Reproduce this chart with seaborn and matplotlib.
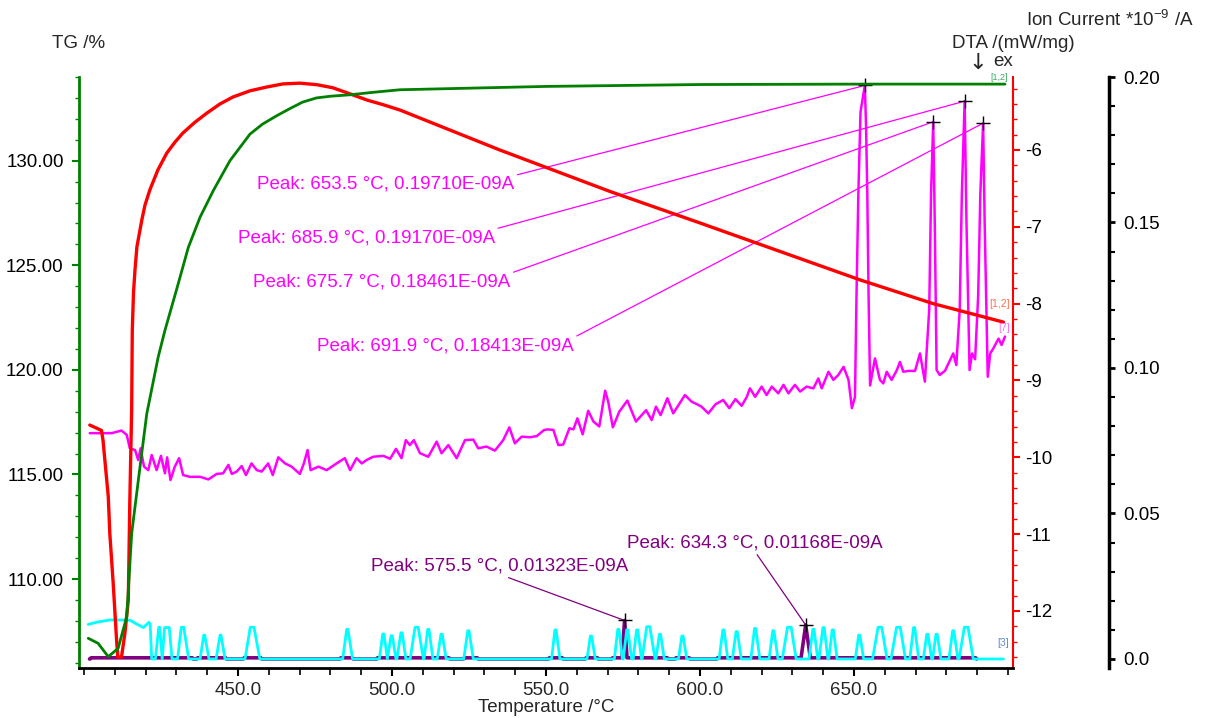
import matplotlib
matplotlib.use("Agg")
import matplotlib.pyplot as plt
from matplotlib.ticker import MultipleLocator, FixedLocator, FixedFormatter, FormatStrFormatter
import seaborn as sns

# ---------------- data ----------------
# TG curve (%)
tg_T = [401.4, 404.6, 407.9, 411.1, 413.9, 415.5, 418.2, 420.4, 424.1, 426.3, 430.0,
        433.9, 437.7, 442.0, 447.4, 453.9, 458.0, 462.6, 467.0, 471.0, 475.5, 480.0,
        486.4, 494.0, 502.6, 550.0, 600.0, 650.0, 699.0]
tg_val = [107.17, 106.93, 106.29, 106.69, 108.20, 112.18, 115.36, 117.90, 120.61, 121.89,
          123.80, 125.86, 127.30, 128.57, 130.00, 131.27, 131.75, 132.15, 132.50, 132.80,
          133.00, 133.08, 133.15, 133.27, 133.39, 133.55, 133.64, 133.66, 133.66]

# DTA curve (mW/mg)
dta_T = [401.9, 405.7, 406.2, 407.9, 408.4, 409.5, 410.6, 411.0, 412.2, 413.3, 414.4,
         414.9, 415.5, 415.7, 416.1, 416.6, 417.2, 418.8, 419.8, 421.4, 424.0, 426.9,
         429.5, 432.1, 436.0, 439.9, 444.2, 448.4, 453.9, 459.4, 464.6, 470.1, 475.6,
         480.8, 486.4, 491.9, 497.1, 502.6, 535.0, 570.8, 600.0, 651.9, 675.7, 698.5]
dta_val = [-9.58, -9.65, -9.78, -10.51, -10.99, -11.64, -12.38, -12.60, -12.60, -12.29,
           -11.86, -10.56, -9.37, -8.34, -7.85, -7.55, -7.26, -6.91, -6.72, -6.52, -6.26,
           -6.04, -5.90, -5.78, -5.64, -5.52, -5.40, -5.31, -5.23, -5.18, -5.14, -5.13,
           -5.15, -5.19, -5.27, -5.35, -5.41, -5.48, -6.00, -6.54, -6.95, -7.69, -8.00,
           -8.24]

# Ion current, magenta trace (*1e-9 A)
ms_T = [401.9, 409.0, 412.2, 413.9, 414.9, 416.6, 417.6, 418.4, 419.5, 420.9, 422.0, 423.6,
        425.0, 426.3, 427.0, 428.1, 429.5, 430.9, 432.2, 434.4, 437.7, 440.4, 443.1, 445.2,
        446.9, 448.0, 449.6, 451.2, 452.6, 454.4, 456.1, 457.7, 459.8, 461.3, 463.1, 465.3,
        467.4, 470.1, 471.4, 472.6, 473.6, 476.1, 478.8, 482.0, 484.7, 486.4, 488.5, 490.2,
        491.8, 493.9, 497.2, 499.4, 501.3, 503.1, 504.5, 505.8, 507.1, 509.1, 511.8, 514.5,
        516.1, 518.3, 521.0, 523.7, 526.4, 528.0, 530.7, 533.4, 536.1, 538.1, 539.9, 542.1,
        544.8, 547.0, 549.4, 550.7, 552.4, 554.0, 555.6, 557.6, 558.9, 560.2, 561.9, 563.7,
        565.4, 567.3, 569.2, 570.2, 571.7, 573.8, 576.4, 579.2, 582.5, 584.3, 585.7, 587.2,
        589.4, 591.3, 595.1, 597.3, 598.9, 600.5, 602.7, 605.0, 607.5, 609.5, 611.5, 613.5,
        615.2, 616.2, 617.9, 620.0, 621.6, 623.3, 625.4, 627.1, 628.7, 630.8, 632.5, 634.6,
        636.8, 638.4, 639.5, 641.7, 643.3, 644.9, 646.6, 648.2, 649.3, 650.3, 650.8, 651.4,
        652.1, 653.5, 653.9, 654.3, 654.7, 655.2, 656.8, 658.4, 659.5, 660.6, 662.2, 663.9,
        664.9, 666.0, 667.6, 669.8, 671.4, 673.0, 673.6, 674.4, 675.0, 675.7, 676.2, 676.8,
        677.8, 679.5, 682.2, 683.2, 684.3, 685.0, 685.9, 686.5, 687.5, 688.3, 689.3, 690.3,
        691.0, 691.9, 692.4, 693.4, 694.2, 695.2, 696.9, 697.9, 699.0]
ms_val = [0.0776, 0.0776, 0.0785, 0.0770, 0.0724, 0.0718, 0.0684, 0.0724, 0.0661, 0.0649,
          0.0701, 0.0649, 0.0698, 0.0638, 0.0693, 0.0615, 0.0661, 0.0690, 0.0632, 0.0626,
          0.0626, 0.0617, 0.0636, 0.0638, 0.0667, 0.0636, 0.0644, 0.0663, 0.0632, 0.0672,
          0.0649, 0.0644, 0.0672, 0.0632, 0.0693, 0.0672, 0.0661, 0.0636, 0.0672, 0.0718,
          0.0649, 0.0661, 0.0649, 0.0672, 0.0690, 0.0649, 0.0690, 0.0672, 0.0684, 0.0695,
          0.0698, 0.0688, 0.0722, 0.0690, 0.0752, 0.0735, 0.0752, 0.0707, 0.0695, 0.0747,
          0.0707, 0.0735, 0.0690, 0.0752, 0.0754, 0.0724, 0.0730, 0.0716, 0.0752, 0.0796,
          0.0741, 0.0764, 0.0762, 0.0766, 0.0787, 0.0789, 0.0787, 0.0735, 0.0737, 0.0793,
          0.0789, 0.0827, 0.0772, 0.0853, 0.0816, 0.0799, 0.0922, 0.0884, 0.0796, 0.0850,
          0.0888, 0.0816, 0.0855, 0.0821, 0.0867, 0.0838, 0.0896, 0.0844, 0.0907, 0.0884,
          0.0876, 0.0867, 0.0844, 0.0875, 0.0890, 0.0862, 0.0893, 0.0870, 0.0901, 0.0930,
          0.0901, 0.0936, 0.0907, 0.0936, 0.0913, 0.0942, 0.0913, 0.0942, 0.0919, 0.0936,
          0.0930, 0.0964, 0.0930, 0.0987, 0.0959, 0.0976, 0.1004, 0.0959, 0.0862, 0.0900,
          0.1250, 0.1600, 0.1880, 0.19710, 0.1830, 0.1600, 0.1260, 0.0940, 0.1033, 0.0959,
          0.0947, 0.0987, 0.0959, 0.0993, 0.1021, 0.0987, 0.0990, 0.0990, 0.1050, 0.0953,
          0.1062, 0.1200, 0.1600, 0.18461, 0.1500, 0.0993, 0.0976, 0.0990, 0.1050, 0.1010,
          0.1200, 0.1600, 0.19170, 0.1500, 0.0993, 0.1050, 0.1030, 0.1250, 0.1600, 0.18413,
          0.1500, 0.0970, 0.1050, 0.1067, 0.1101, 0.1079, 0.1108]

# Ion current, cyan trace: initial plateau, then bumps (left, top start, top end, right, height)
cyan_head_T = [401.4, 404.5, 408.4, 413.0, 415.0, 416.6, 418.0, 419.3, 421.1, 421.5, 422.0]
cyan_head_val = [0.0119, 0.0127, 0.0134, 0.0134, 0.0133, 0.0123, 0.0115, 0.0108, 0.0126,
                 0.0120, 0.0]
cyan_bumps = [
    (423.2, 424.3, 424.6, 425.4, 0.0109), (425.4, 426.2, 427.7, 428.6, 0.0108),
    (430.4, 431.6, 432.4, 434.0, 0.0109), (437.7, 438.9, 439.2, 440.6, 0.0082),
    (442.9, 444.2, 444.5, 445.8, 0.0082), (452.3, 454.0, 455.2, 457.1, 0.0109),
    (484.0, 485.3, 485.7, 487.2, 0.0102), (495.9, 497.0, 497.4, 498.5, 0.0086),
    (498.5, 499.7, 500.1, 501.3, 0.0080), (501.6, 502.9, 503.3, 504.5, 0.0090),
    (505.9, 507.5, 508.5, 510.2, 0.0109), (510.4, 511.6, 512.0, 513.3, 0.0102),
    (514.7, 515.9, 516.3, 517.6, 0.0085), (523.3, 524.6, 525.0, 526.4, 0.0097),
    (551.8, 552.9, 553.3, 554.5, 0.0100), (563.3, 564.4, 564.8, 566.0, 0.0079),
    (572.2, 573.3, 573.7, 574.8, 0.0102), (575.1, 576.2, 576.6, 577.8, 0.0100),
    (578.3, 579.4, 579.8, 581.0, 0.0100), (581.2, 582.7, 583.7, 585.4, 0.0111),
    (585.7, 586.8, 587.2, 588.4, 0.0085), (593.0, 594.1, 594.5, 595.7, 0.0079),
    (606.2, 607.4, 607.8, 609.0, 0.0100), (610.5, 611.7, 612.1, 613.4, 0.0094),
    (616.5, 617.7, 618.1, 619.4, 0.0105), (622.4, 623.6, 624.0, 625.3, 0.0097),
    (626.7, 628.4, 629.6, 631.2, 0.0109), (635.4, 636.6, 637.0, 638.2, 0.0102),
    (638.6, 639.9, 640.3, 641.5, 0.0108), (641.8, 642.9, 643.3, 644.5, 0.0100),
    (650.4, 651.5, 651.9, 653.1, 0.0082), (656.0, 657.8, 659.0, 660.7, 0.0109),
    (662.0, 663.8, 665.0, 666.7, 0.0109), (668.1, 669.3, 669.7, 671.0, 0.0108),
    (672.5, 673.6, 674.0, 675.2, 0.0085), (675.5, 676.6, 677.0, 678.2, 0.0085),
    (680.8, 682.0, 682.4, 683.7, 0.0097), (684.1, 685.8, 687.0, 688.7, 0.0109),
]
cyan_end_T = 698.5

# Ion current, purple trace: low humps (start, end) and two peaks
purple_level = 0.0004
purple_groups = [(402.0, 435.5), (436.6, 446.3), (451.7, 457.7), (483.1, 487.4),
                 (495.0, 518.8), (523.2, 528.0), (550.8, 555.6), (562.7, 567.0),
                 (571.3, 589.7), (591.9, 596.8), (605.4, 689.8)]
purple_peaks = [(574.7, 575.5, 576.3, 0.01323), (632.8, 634.3, 635.8, 0.01168)]

# Peak labels
ms_peak_T = [653.5, 685.9, 675.7, 691.9]
ms_peak_val = [0.19710, 0.19170, 0.18461, 0.18413]
pu_peak_T = [575.5, 634.3]
pu_peak_val = [0.01323, 0.01168]

x_ticks = [450.0, 500.0, 550.0, 600.0, 650.0]
tg_ticks = [110.0, 115.0, 120.0, 125.0, 130.0]
dta_ticks = [-12, -11, -10, -9, -8, -7, -6]
ion_ticks = [0.0, 0.05, 0.10, 0.15, 0.20]
ion_tick_labels = ["0.0", "0.05", "0.10", "0.15", "0.20"]

# ---------------- build polylines ----------------
cyan_T = list(cyan_head_T)
cyan_val = list(cyan_head_val)
for left, t0, t1, right, h in cyan_bumps:
    cyan_T += [left, t0, t1, right]
    cyan_val += [0.0, h, h, 0.0]
cyan_T.append(cyan_end_T)
cyan_val.append(0.0)

purple_T, purple_val = [401.8], [0.0]
for s, e in purple_groups:
    seg = [(s, 0.0), (s + 0.3, purple_level)]
    for pl, pc, pr, ph in purple_peaks:
        if s < pc < e:
            seg += [(pl, purple_level), (pc, ph), (pr, purple_level)]
    seg += [(e - 0.3, purple_level), (e, 0.0)]
    for t, v in seg:
        purple_T.append(t)
        purple_val.append(v)

# ---------------- style ----------------
sns.set_style("white")
plt.rcParams["font.family"] = ["Liberation Sans", "DejaVu Sans"]
plt.rcParams["mathtext.default"] = "regular"
FS = 13.5

GREEN = "#008000"
RED = "#FF0000"
MAGENTA = "#FF00FF"
CYAN = "#00FFFF"
PURPLE = "#800080"

W, H = 1209, 718
fig = plt.figure(figsize=(W / 100, H / 100), dpi=100)
L, R, T, B = 79, 1013, 77, 668
ax = fig.add_axes([L / W, 1 - B / H, (R - L) / W, (B - T) / H])
ax2 = ax.twinx()
ax3 = ax.twinx()

# draw order: ion currents at the back, DTA over them, TG on top
ax3.set_zorder(1)
ax2.set_zorder(2)
ax.set_zorder(3)
for a in (ax, ax2, ax3):
    a.patch.set_visible(False)

# ion current traces
sns.lineplot(x=purple_T, y=purple_val, ax=ax3, color=PURPLE, lw=2.6, sort=False,
             estimator=None)
sns.lineplot(x=cyan_T, y=cyan_val, ax=ax3, color=CYAN, lw=2.0, sort=False, estimator=None)
sns.lineplot(x=ms_T, y=ms_val, ax=ax3, color=MAGENTA, lw=1.8, sort=False, estimator=None)
# DTA
sns.lineplot(x=dta_T, y=dta_val, ax=ax2, color=RED, lw=2.4, sort=False, estimator=None)
# TG
sns.lineplot(x=tg_T, y=tg_val, ax=ax, color=GREEN, lw=2.0, sort=False, estimator=None)

# ---------------- axes ----------------
ax.set_xlim(398.4, 701.6)
ax.set_ylim(105.75, 134.0)
ax2.set_ylim(-12.742, -5.05)
ax3.set_ylim(-0.0031, 0.2)

for a in (ax, ax2, ax3):
    a.set_xlabel("")
    a.set_ylabel("")
    for s in a.spines.values():
        s.set_visible(False)

ax.spines["left"].set_visible(True)
ax.spines["left"].set_color(GREEN)
ax.spines["left"].set_linewidth(2.0)
ax.spines["bottom"].set_visible(True)
ax.spines["bottom"].set_color("black")
ax.spines["bottom"].set_linewidth(2.0)

ax2.spines["right"].set_visible(True)
ax2.spines["right"].set_color(RED)
ax2.spines["right"].set_linewidth(1.5)

ax3.spines["right"].set_visible(True)
ax3.spines["right"].set_position(("axes", 1 + 96 / (R - L)))
ax3.spines["right"].set_color("black")
ax3.spines["right"].set_linewidth(2.5)

ax.xaxis.set_major_locator(FixedLocator(x_ticks))
ax.xaxis.set_major_formatter(FormatStrFormatter("%.1f"))
ax.xaxis.set_minor_locator(MultipleLocator(10))
ax.tick_params(axis="x", which="major", direction="out", length=6, width=1.5,
               color="black", labelsize=FS, pad=4, bottom=True)
ax.tick_params(axis="x", which="minor", direction="out", length=5, width=1.2,
               color="black", bottom=True)

ax.yaxis.set_major_locator(FixedLocator(tg_ticks))
ax.yaxis.set_major_formatter(FormatStrFormatter("%.2f"))
ax.yaxis.set_minor_locator(MultipleLocator(1))
ax.tick_params(axis="y", which="major", direction="out", length=5, width=1.5,
               color=GREEN, labelcolor="black", labelsize=FS, pad=6, left=True)
ax.tick_params(axis="y", which="minor", direction="out", length=3, width=1.0,
               color=GREEN, left=True)

ax2.yaxis.set_major_locator(FixedLocator(dta_ticks))
ax2.yaxis.set_major_formatter(FormatStrFormatter("%d"))
ax2.yaxis.set_minor_locator(MultipleLocator(0.2))
ax2.tick_params(axis="y", which="major", direction="out", length=5, width=1.5,
                color=RED, labelcolor="black", labelsize=FS, pad=4, right=True)
ax2.tick_params(axis="y", which="minor", direction="out", length=3, width=1.0,
                color=RED, right=True)

ax3.yaxis.set_major_locator(FixedLocator(ion_ticks))
ax3.yaxis.set_major_formatter(FixedFormatter(ion_tick_labels))
ax3.yaxis.set_minor_locator(MultipleLocator(0.01))
ax3.tick_params(axis="y", which="major", direction="out", length=4, width=2.0,
                color="black", labelcolor="black", labelsize=FS, pad=6, right=True)
ax3.tick_params(axis="y", which="minor", direction="out", length=4, width=1.5,
                color="black", right=True)
ax2.tick_params(axis="x", which="both", bottom=False, labelbottom=False)
ax3.tick_params(axis="x", which="both", bottom=False, labelbottom=False)

# ---------------- peak labels ----------------
ms_text_pos = [(456.2, 0.1632), (449.9, 0.1448), (454.9, 0.1296), (475.6, 0.1075)]
for t, v, (tx, ty) in zip(ms_peak_T, ms_peak_val, ms_text_pos):
    ax3.annotate(f"Peak: {t:.1f} °C, {v:.5f}E-09A", xy=(t, v), xytext=(tx, ty),
                 textcoords="data", color=MAGENTA, fontsize=FS, ha="left", va="center",
                 arrowprops=dict(arrowstyle="-", color=MAGENTA, lw=0.9, shrinkA=0,
                                 shrinkB=0, relpos=(1.0, 1.0)), zorder=5)

pu_text_pos = [(493.2, 0.0320), (576.3, 0.0399)]
for t, v, (tx, ty) in zip(pu_peak_T, pu_peak_val, pu_text_pos):
    ax3.annotate(f"Peak: {t:.1f} °C, {v:.5f}E-09A", xy=(t, v), xytext=(tx, ty),
                 textcoords="data", color=PURPLE, fontsize=FS, ha="left", va="center",
                 arrowprops=dict(arrowstyle="-", color=PURPLE, lw=0.9, shrinkA=0,
                                 shrinkB=0, relpos=(0.5, 0.0)), zorder=5)

ax3.plot(ms_peak_T + pu_peak_T, ms_peak_val + pu_peak_val, linestyle="none",
         marker="+", color="black", ms=10, mew=1.0, zorder=6)

# ---------------- axis titles and curve tags ----------------
def fpos(px, py):
    return px / W, 1 - py / H

fig.text(*fpos(79, 43), "TG /%", fontsize=FS, ha="center", va="center")
fig.text(*fpos(1013, 43), "DTA /(mW/mg)", fontsize=FS, ha="center", va="center")
fig.text(*fpos(1110, 20), r"Ion Current *10$^{-9}$ /A", fontsize=FS, ha="center",
         va="center")
fig.text(*fpos(978, 63), "↓", fontsize=16, ha="center", va="center",
         family=["DejaVu Sans"])
fig.text(*fpos(1003, 62), "ex", fontsize=FS, ha="center", va="center")
fig.text(*fpos(999, 78), "[1,2]", fontsize=6.5, color="#3aa860", ha="center", va="center")
fig.text(*fpos(1000, 304), "[1,2]", fontsize=7.5, color="#ff7050", ha="center", va="center")
fig.text(*fpos(1004, 328), "[7]", fontsize=7.5, color="#ff70ff", ha="center", va="center")
fig.text(*fpos(1003, 643), "[3]", fontsize=7.5, color="#5a8fd0", ha="center", va="center")
fig.text(*fpos(546, 707), "Temperature /°C", fontsize=FS, ha="center", va="center")

fig.savefig("out.png", dpi=100, facecolor="white")
